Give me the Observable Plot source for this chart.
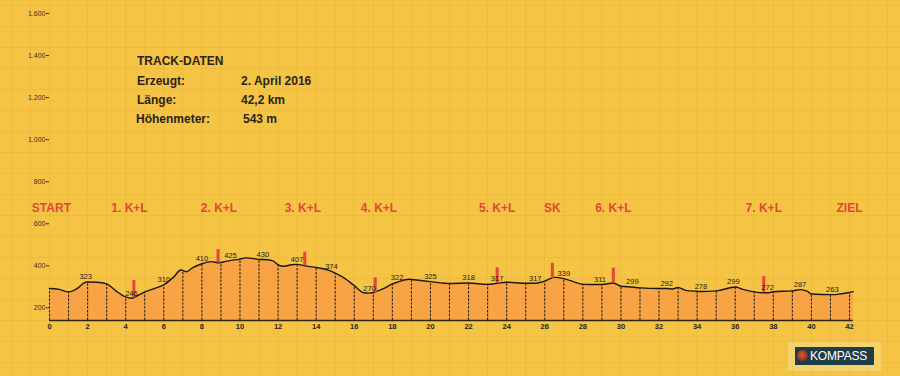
<!DOCTYPE html>
<html>
<head>
<meta charset="utf-8">
<script src="https://cdn.jsdelivr.net/npm/d3@7"></script>
<script src="https://cdn.jsdelivr.net/npm/@observablehq/plot@0.6"></script>
<style>
  html, body { margin: 0; padding: 0; }
  body {
    width: 900px; height: 376px; overflow: hidden;
    background-color: #F6C444;
    background-image:
      linear-gradient(to right, rgba(190,135,25,0.15) 1px, transparent 1px),
      linear-gradient(to bottom, rgba(190,135,25,0.15) 1px, transparent 1px);
    background-size: 19.05px 21px;
    background-position: 49px 5px;
    font-family: "Liberation Sans", Arial, sans-serif;
  }
  #wrap { position: relative; width: 900px; height: 376px; }
  #chart { position: absolute; left: 0; top: 0; }
  .info { position: absolute; font-size: 12px; font-weight: bold; color: #2a2418; white-space: nowrap; }
  #logo-halo { position: absolute; left: 788px; top: 342px; width: 93px; height: 29px; background: rgba(246,220,140,0.6); }
  #logo { position: absolute; left: 795px; top: 347px; width: 79px; height: 18px; background: #1F3D45;
          color: #fff; font-size: 12px; line-height: 18px; letter-spacing: -0.2px; }
  #logo .dot { position: absolute; left: 2px; top: 3px; width: 11px; height: 11px; border-radius: 50%;
               background: radial-gradient(circle at 45% 45%, #d0603a 0%, #8e2a22 70%); }
  #logo .txt { position: absolute; left: 15px; top: 0; }
</style>
</head>
<body>
<div id="wrap">
  <div id="chart"></div>
  <div class="info" style="left:137px;top:54px">TRACK-DATEN</div>
  <div class="info" style="left:137px;top:74px">Erzeugt:</div>
  <div class="info" style="left:241px;top:74px">2. April 2016</div>
  <div class="info" style="left:137px;top:93px">Länge:</div>
  <div class="info" style="left:241px;top:93px">42,2 km</div>
  <div class="info" style="left:136px;top:112px">Höhenmeter:</div>
  <div class="info" style="left:243px;top:112px">543 m</div>
  <div id="logo-halo"></div>
  <div id="logo"><span class="dot"></span><span class="txt">KOMPASS</span></div>
</div>
<script>
// Elevation profile (km, m)
const profileKm = [0, 0.5, 1, 1.5, 1.8, 2, 2.5, 3, 3.5, 4, 4.3, 4.7, 5, 5.5, 6, 6.5, 6.9, 7, 7.2, 7.5, 8, 8.5, 8.9, 9, 9.5, 10, 10.3, 10.8, 11, 11.2, 11.7, 12, 12.3, 12.7, 13, 13.4, 14, 14.8, 15, 15.5, 16, 16.5, 16.8, 17, 17.5, 18, 18.25, 18.9, 19, 19.5, 20, 21, 22, 23, 23.5, 24, 25, 25.5, 26, 26.5, 27, 27.5, 28, 28.9, 29, 29.6, 30, 30.6, 31, 32, 32.4, 32.7, 33, 33.4, 34, 34.2, 35, 35.9, 36, 36.4, 37, 37.5, 37.7, 38, 39, 39.4, 39.8, 40, 41, 41.1, 41.5, 42, 42.2];
const profileElev = [292, 288, 276, 295, 318, 323, 322, 314, 280, 252, 246, 262, 276, 292, 310, 345, 380, 378, 372, 390, 410, 420, 414, 416, 425, 432, 438, 433, 430, 430, 425, 405, 398, 405, 407, 400, 392, 374, 365, 340, 306, 272, 270, 273, 290, 314, 322, 336, 335, 330, 325, 316, 318, 312, 317, 322, 317, 317, 327, 345, 339, 325, 312, 311, 311, 318, 303, 299, 295, 292, 292, 290, 297, 283, 279, 278, 281, 298, 299, 288, 276, 272, 272, 277, 281, 287, 278, 266, 263, 263, 266, 273, 277];

// Elevation annotations
const elevLabelKm = [1.9, 4.3, 6.0, 8.0, 9.5, 11.2, 13.0, 14.8, 16.8, 18.25, 20.0, 22.0, 23.5, 25.5, 27.0, 28.9, 30.6, 32.4, 34.2, 35.9, 37.7, 39.4, 41.1];
const elevLabelVal = [323, 246, 310, 410, 425, 430, 407, 374, 270, 322, 325, 318, 317, 317, 339, 311, 299, 292, 278, 299, 272, 287, 263];

// Checkpoints (red markers)
const markerKm = [4.43, 8.85, 13.4, 17.1, 23.5, 26.4, 29.6, 37.5];
const markerBase = [247, 414, 400, 273, 317, 340, 318, 272];
const markerTop = [330, 477, 465, 343, 390, 412, 389, 349];

// Station names
const stationNames = ["START", "1. K+L", "2. K+L", "3. K+L", "4. K+L", "5. K+L", "SK", "6. K+L", "7. K+L", "ZIEL"];
const stationKm = [0.1, 4.2, 8.9, 13.3, 17.3, 23.5, 26.4, 29.6, 37.5, 42.0];

// Axis ticks
const xTicks = d3.range(0, 43, 2);
const yTicks = [200, 400, 600, 800, 1000, 1200, 1400, 1600];

const profile = profileKm.map((k, i) => ({km: k, elev: profileElev[i]}));
const kmLines = profile.filter(d => Number.isInteger(d.km));
const elevLabels = elevLabelKm.map((k, i) => ({km: k, elev: elevLabelVal[i]}));
const markers = markerKm.map((k, i) => ({km: k, base: markerBase[i], top: markerTop[i]}));
const stations = stationNames.map((n, i) => ({name: n, km: stationKm[i]}));

const de = d3.formatLocale({decimal: ",", thousands: ".", grouping: [3], currency: ["", " €"]});
const fmt = de.format(",d");

const RED = "#E4463A";
const DARK = "#2e2414";

const chart = Plot.plot({
  width: 900,
  height: 376,
  marginLeft: 49,
  marginRight: 51,
  marginTop: 13,
  marginBottom: 56,
  style: {background: "transparent", fontFamily: "'Liberation Sans', Arial, sans-serif"},
  x: {domain: [0, 42], label: null},
  y: {domain: [140, 1600], label: null},
  marks: [
    Plot.areaY(profile, {x: "km", y1: 140, y2: "elev", fill: "#F8A445", curve: "monotone-x"}),
    Plot.ruleX(kmLines, {x: "km", y1: 140, y2: "elev", stroke: DARK, strokeWidth: 1.1, strokeDasharray: "2.5,1.3"}),
    Plot.lineY(profile, {x: "km", y: "elev", stroke: "#1c1a16", strokeWidth: 1.4, curve: "monotone-x"}),
    Plot.ruleY([140], {x1: 0, x2: 42.2, stroke: DARK, strokeWidth: 1.6}),
    Plot.ruleX(markers, {x: "km", y1: "base", y2: "top", stroke: RED, strokeWidth: 3}),
    Plot.text(elevLabels, {x: "km", y: "elev", text: d => String(d.elev), dy: -5, fontSize: 7.5, fill: "#1c1a16"}),
    Plot.text(stations, {x: "km", y: 673, text: "name", fill: RED, fontSize: 12, fontWeight: "bold"}),
    Plot.axisY(yTicks, {tickFormat: fmt, tickSize: 3, tickPadding: 1, fontSize: 7, color: "#333", label: null}),
    Plot.axisX(xTicks, {tickSize: 0, tickPadding: 3, fontSize: 7.5, fontWeight: "bold", color: "#2a2418", label: null})
  ]
});
document.getElementById("chart").appendChild(chart);
</script>
</body>
</html>
